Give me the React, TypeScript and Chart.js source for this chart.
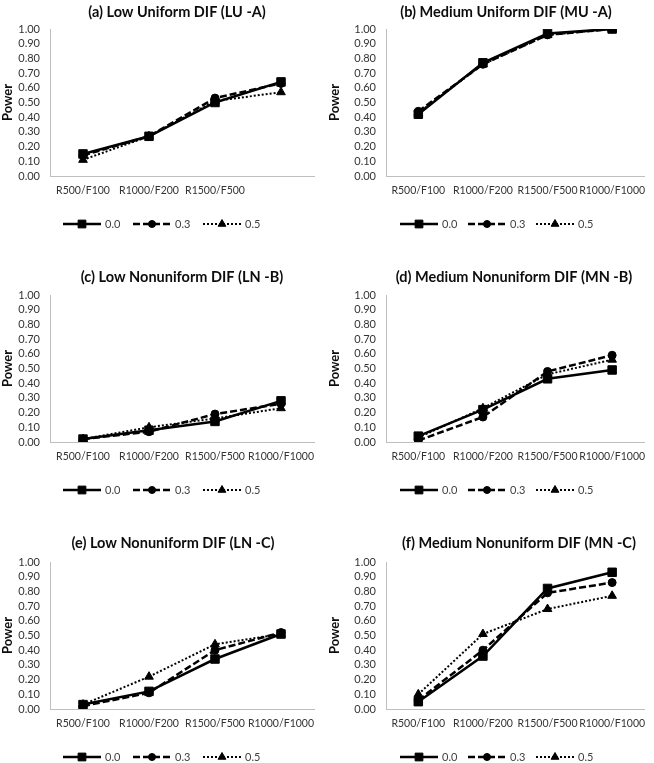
import React, { useEffect, useRef } from "react";
import { Chart, registerables } from "chart.js";
import { drawPoint } from "chart.js/helpers";

Chart.register(...registerables);

// ---------- data ----------
const categories = ["R500/F100", "R1000/F200", "R1500/F500", "R1000/F1000"];
const categoriesLUA = ["R500/F100", "R1000/F200", "R1500/F500", ""];
const seriesLabels = ["0.0", "0.3", "0.5"];
const yMin = 0;
const yMax = 1;
const yStep = 0.1;
const yAxisTitle = "Power";

const luA_00 = [0.15, 0.27, 0.5, 0.64];
const luA_03 = [0.14, 0.27, 0.53, 0.63];
const luA_05 = [0.11, 0.27, 0.51, 0.57];

const muA_00 = [0.42, 0.77, 0.97, 1.0];
const muA_03 = [0.44, 0.76, 0.96, 1.0];
const muA_05 = [0.43, 0.76, 0.96, 1.0];

const lnB_00 = [0.02, 0.08, 0.14, 0.28];
const lnB_03 = [0.02, 0.07, 0.19, 0.26];
const lnB_05 = [0.02, 0.1, 0.16, 0.23];

const mnB_00 = [0.04, 0.22, 0.43, 0.49];
const mnB_03 = [0.01, 0.17, 0.48, 0.59];
const mnB_05 = [0.03, 0.23, 0.46, 0.56];

const lnC_00 = [0.03, 0.12, 0.34, 0.51];
const lnC_03 = [0.02, 0.11, 0.4, 0.52];
const lnC_05 = [0.03, 0.22, 0.44, 0.51];

const mnC_00 = [0.05, 0.36, 0.82, 0.93];
const mnC_03 = [0.06, 0.4, 0.79, 0.86];
const mnC_05 = [0.1, 0.51, 0.68, 0.77];

// ---------- styles / layout ----------
const FONT = "Lato, 'Open Sans', sans-serif";
const seriesStyles = [
  { dash: [] as number[], width: 2.5, point: "rect", radius: 6, legendRadius: 5.5 },
  { dash: [7, 3], width: 2.5, point: "circle", radius: 4, legendRadius: 3.5 },
  { dash: [2, 2], width: 2, point: "triangle", radius: 5, legendRadius: 4.5 },
];

const CANVAS_W = 327;
const CANVAS_H = 230;
const PLOT_TOP = 29;
const PLOT_H = 147;

type PanelDef = {
  title: string;
  cats: string[];
  series: number[][];
  col: number;
  top: number;
  titleDX: number;
  titleDY: number;
};

const panels: PanelDef[] = [
  { title: "(a) Low Uniform DIF (LU -A)", cats: categoriesLUA, series: [luA_00, luA_03, luA_05], col: 0, top: 0, titleDX: 127, titleDY: -17 },
  { title: "(b) Medium Uniform DIF (MU -A)", cats: categories, series: [muA_00, muA_03, muA_05], col: 1, top: 0, titleDX: 120, titleDY: -17 },
  { title: "(c) Low Nonuniform DIF (LN -B)", cats: categories, series: [lnB_00, lnB_03, lnB_05], col: 0, top: 266, titleDX: 132, titleDY: -18 },
  { title: "(d) Medium Nonuniform DIF (MN -B)", cats: categories, series: [mnB_00, mnB_03, mnB_05], col: 1, top: 266, titleDX: 128, titleDY: -18 },
  { title: "(e) Low Nonuniform DIF (LN -C)", cats: categories, series: [lnC_00, lnC_03, lnC_05], col: 0, top: 533, titleDX: 123, titleDY: -19 },
  { title: "(f) Medium Nonuniform DIF (MN -C)", cats: categories, series: [mnC_00, mnC_03, mnC_05], col: 1, top: 533, titleDX: 133, titleDY: -19 },
];

const colLayout = [
  { left: 0, plotLeft: 50, padRight: 13, legendDX: 13, legendStep: 70 },
  { left: 327, plotLeft: 59, padRight: 4, legendDX: 14, legendStep: 68 },
];

const panelDecor = {
  id: "panelDecor",
  afterDraw(chart: any, _args: any, opts: any) {
    const { ctx, chartArea } = chart;
    ctx.save();
    ctx.fillStyle = "#0d0d0d";
    ctx.font = `bold 14.5px ${FONT}`;
    ctx.textAlign = "center";
    ctx.textBaseline = "middle";
    ctx.fillText(opts.title, chartArea.left + opts.titleDX, chartArea.top + opts.titleDY);

    const ly = chartArea.bottom + 48;
    chart.data.datasets.forEach((ds: any, i: number) => {
      const x = chartArea.left + opts.legendDX + i * opts.legendStep;
      ctx.strokeStyle = ds.borderColor;
      ctx.lineWidth = ds.borderWidth;
      ctx.setLineDash(ds.borderDash || []);
      ctx.beginPath();
      ctx.moveTo(x, ly);
      ctx.lineTo(x + 38, ly);
      ctx.stroke();
      ctx.setLineDash([]);
      ctx.fillStyle = ds.pointBackgroundColor;
      ctx.strokeStyle = ds.pointBorderColor;
      ctx.lineWidth = 1;
      drawPoint(ctx, { pointStyle: ds.pointStyle, radius: seriesStyles[i].legendRadius, rotation: 0, borderWidth: 1 } as any, x + 19, ly);
      ctx.fillStyle = "#404040";
      ctx.font = `11px ${FONT}`;
      ctx.textAlign = "left";
      ctx.textBaseline = "middle";
      ctx.fillText(ds.label, x + 42, ly);
    });
    ctx.restore();
  },
};

function Panel({ def }: { def: PanelDef }) {
  const ref = useRef<HTMLCanvasElement | null>(null);
  const col = colLayout[def.col];
  useEffect(() => {
    if (!ref.current) return;
    const chart = new Chart(ref.current, {
      type: "line",
      data: {
        labels: def.cats,
        datasets: def.series.map((vals, i) => ({
          label: seriesLabels[i],
          data: vals,
          borderColor: "#000",
          backgroundColor: "#000",
          borderWidth: seriesStyles[i].width,
          borderDash: seriesStyles[i].dash,
          pointStyle: seriesStyles[i].point as any,
          pointRadius: seriesStyles[i].radius,
          pointBackgroundColor: "#000",
          pointBorderColor: "#000",
          pointBorderWidth: 1,
          tension: 0,
          fill: false,
        })),
      },
      options: {
        responsive: false,
        animation: false,
        layout: { padding: { top: PLOT_TOP, left: 0, right: col.padRight, bottom: 0 } },
        plugins: {
          legend: { display: false },
          title: { display: false },
          tooltip: { enabled: false },
          panelDecor: { title: def.title, titleDX: def.titleDX, titleDY: def.titleDY, legendDX: col.legendDX, legendStep: col.legendStep },
        } as any,
        scales: {
          x: {
            type: "category",
            offset: true,
            grid: { display: false, drawTicks: false },
            border: { display: true, color: "#bfbfbf", width: 1 },
            ticks: {
              autoSkip: false,
              maxRotation: 0,
              minRotation: 0,
              padding: 8,
              color: "#333333",
              font: { family: FONT, size: 10.5 },
            },
            afterFit: (s: any) => {
              s.height = CANVAS_H - PLOT_TOP - PLOT_H;
            },
          },
          y: {
            min: yMin,
            max: yMax,
            grid: { display: false, drawTicks: false },
            border: { display: true, color: "#bfbfbf", width: 1 },
            ticks: {
              stepSize: yStep,
              autoSkip: false,
              padding: 10,
              color: "#333333",
              font: { family: FONT, size: 11 },
              callback: (v: any) => Number(v).toFixed(2),
            },
            title: {
              display: true,
              text: yAxisTitle,
              color: "#0d0d0d",
              padding: 0,
              font: { family: FONT, size: 13, weight: "bold" },
            },
            afterFit: (s: any) => {
              s.width = col.plotLeft;
            },
          },
        },
      },
      plugins: [panelDecor as any],
    });
    return () => chart.destroy();
  }, []);
  return (
    <canvas
      ref={ref}
      width={CANVAS_W}
      height={CANVAS_H}
      style={{ position: "absolute", left: col.left, top: def.top, width: CANVAS_W, height: CANVAS_H, display: "block" }}
    />
  );
}

export default function App() {
  return (
    <div style={{ position: "absolute", left: 0, top: 0, width: 654, height: 763, overflow: "hidden", background: "#fff" }}>
      {panels.map((p, i) => (
        <Panel key={i} def={p} />
      ))}
    </div>
  );
}
